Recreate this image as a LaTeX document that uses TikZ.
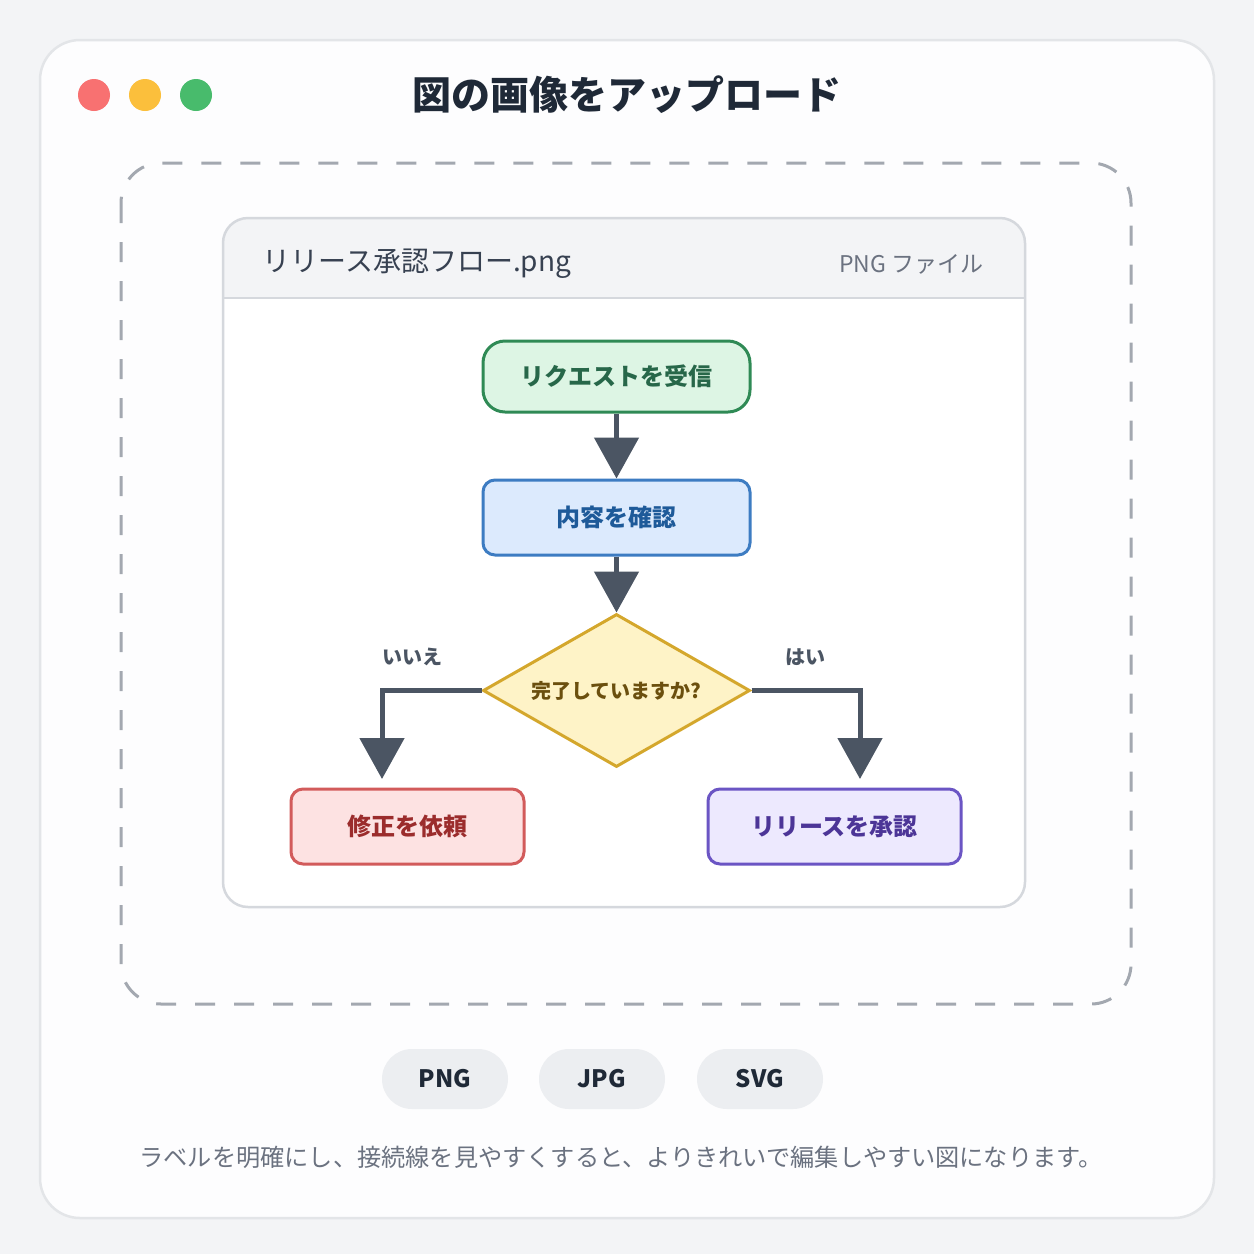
\documentclass[tikz,border=0pt]{standalone}
\usepackage{fontspec}
\setmainfont{Noto Sans CJK JP}
\usetikzlibrary{arrows.meta,shapes.geometric}
\definecolor{bgc}{HTML}{F3F4F6}
\definecolor{cardfill}{HTML}{FDFDFE}
\definecolor{cardline}{HTML}{E3E5E8}
\definecolor{dashc}{HTML}{A3A8B0}
\definecolor{innerline}{HTML}{D5D8DD}
\definecolor{hdrfill}{HTML}{F3F4F6}
\definecolor{titlec}{HTML}{1F2937}
\definecolor{hdrtext}{HTML}{374151}
\definecolor{subtext}{HTML}{6B7280}
\definecolor{arrowc}{HTML}{4B5563}
\definecolor{dotr}{HTML}{F87171}
\definecolor{doty}{HTML}{FBBF3C}
\definecolor{dotg}{HTML}{48BB6C}
\definecolor{gfill}{HTML}{DDF5E4}
\definecolor{gline}{HTML}{2F8A55}
\definecolor{gtext}{HTML}{276749}
\definecolor{bfill}{HTML}{DCEAFD}
\definecolor{bline}{HTML}{3D7CC2}
\definecolor{btext}{HTML}{1E5A99}
\definecolor{yfill}{HTML}{FEF3C7}
\definecolor{yline}{HTML}{D4A72C}
\definecolor{ytext}{HTML}{6B4F0E}
\definecolor{rfill}{HTML}{FDE2E2}
\definecolor{rline}{HTML}{D25B5B}
\definecolor{rtext}{HTML}{9B2C2C}
\definecolor{pfill}{HTML}{EDE9FE}
\definecolor{pline}{HTML}{6B55C4}
\definecolor{ptext}{HTML}{4C3597}
\definecolor{pillfill}{HTML}{ECEEF1}
\tikzset{
  flowbox/.style={draw, line width=3pt, rounded corners=12pt, inner sep=0pt, font=\fontsize{24}{28}\selectfont\bfseries},
  arr/.style={draw=arrowc, line width=5pt, -{Triangle[length=41pt,width=44pt]}},
  pill/.style={fill=pillfill, rounded corners=30pt, minimum width=126pt, minimum height=60pt, inner sep=0pt, text=titlec, font=\fontsize{24}{28}\selectfont\bfseries},
  branchlbl/.style={text=arrowc, font=\fontsize{20}{24}\selectfont\bfseries},
  dot/.style={circle, minimum size=32pt, inner sep=0pt}
}
\begin{document}
\begin{tikzpicture}[x=1pt,y=-1pt]
\useasboundingbox (0,0) rectangle (1254,1254);
\fill[bgc] (0,0) rectangle (1254,1254);
% outer card
\draw[cardline, fill=cardfill, line width=2.5pt, rounded corners=40pt] (40,40) rectangle (1214,1218);
% window dots
\node[dot, fill=dotr] (dr) at (94,95) {};
\node[dot, fill=doty] (dy) at (145,95) {};
\node[dot, fill=dotg] (dg) at (196,95) {};
\node[text=titlec, font=\fontsize{39}{44}\selectfont\bfseries] (title) at (627,95) {図の画像をアップロード};
% dashed drop zone
\draw[dashc, line width=3pt, dash pattern=on 20pt off 19pt, rounded corners=40pt] (121,163) rectangle (1131,1004);
% inner card
\fill[white, rounded corners=25pt] (223,218) rectangle (1025,907);
\begin{scope}
\clip[rounded corners=25pt] (223,218) rectangle (1025,907);
\fill[hdrfill] (223,218) rectangle (1025,298);
\end{scope}
\draw[innerline, line width=1.5pt] (223,298) -- (1025,298);
\draw[innerline, line width=2.5pt, rounded corners=25pt] (223,218) rectangle (1025,907);
\node[anchor=west, text=hdrtext, font=\fontsize{28}{32}\selectfont] (fname) at (259,264) {リリース承認フロー.png};
\node[anchor=east, text=subtext, font=\fontsize{23}{28}\selectfont] (ftype) at (987,264) {PNG ファイル};
% flow nodes
\node[flowbox, draw=gline, fill=gfill, text=gtext, rounded corners=22pt, minimum width=267pt, minimum height=71pt] (start) at (616.5,376.5) {リクエストを受信};
\node[flowbox, draw=bline, fill=bfill, text=btext, minimum width=267pt, minimum height=75pt] (check) at (616.5,517.5) {内容を確認};
\node[diamond, draw=yline, fill=yfill, line width=3pt, inner sep=0pt, aspect=1.745, minimum width=267pt, minimum height=153pt, text=ytext, font=\fontsize{20}{24}\selectfont\bfseries] (dec) at (616.5,690.5) {完了していますか?};
\node[flowbox, draw=rline, fill=rfill, text=rtext, minimum width=233pt, minimum height=75pt] (fix) at (407.5,826.5) {修正を依頼};
\node[flowbox, draw=pline, fill=pfill, text=ptext, minimum width=253pt, minimum height=75pt] (appr) at (834.5,826.5) {リリースを承認};
\coordinate (noend) at (382,779);
\coordinate (yesend) at (860,779);
\draw[arr] (start) -- (check);
\draw[arr] (check) -- (dec);
\draw[arr] (dec.west) -| (noend);
\draw[arr] (dec.east) -| (yesend);
\node[branchlbl] (nolbl) at (412,657) {いいえ};
\node[branchlbl] (yeslbl) at (805,657) {はい};
% format pills
\node[pill] (png) at (445,1079) {PNG};
\node[pill] (jpg) at (602,1079) {JPG};
\node[pill] (svg) at (760,1079) {SVG};
\node[text=subtext, font=\fontsize{24.2}{28}\selectfont] (hint) at (621,1157) {ラベルを明確にし、接続線を見やすくすると、よりきれいで編集しやすい図になります。};
\end{tikzpicture}
\end{document}
